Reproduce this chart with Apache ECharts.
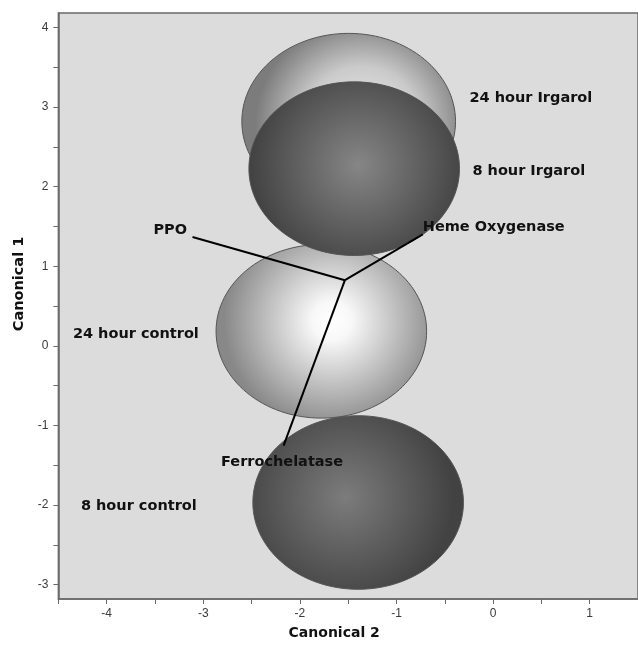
<!DOCTYPE html>
<html>
<head>
<meta charset="utf-8">
<script src="https://cdn.jsdelivr.net/npm/echarts@6/dist/echarts.min.js"></script>
<style>
html,body{margin:0;padding:0;background:#fff;}
#chart{width:638px;height:645px;}
</style>
</head>
<body>
<div id="chart"></div>
<script>
// ---- data ----
const groupNames = ['24 hour control', '8 hour control', '24 hour Irgarol', '8 hour Irgarol'];
const groupCanon2 = [-1.778, -1.397, -1.495, -1.438];   // x (Canonical 2) of circle centres
const groupCanon1 = [0.182, -1.968, 2.818, 2.225];      // y (Canonical 1) of circle centres
const groupRadius = [1.09, 1.09, 1.106, 1.09];          // confidence circle radius

const rayNames = ['PPO', 'Heme Oxygenase', 'Ferrochelatase'];
const rayOrigin = [-1.534, 0.824];
const rayEndCanon2 = [-3.112, -0.728, -2.169];
const rayEndCanon1 = [1.367, 1.400, -1.254];

const labelTexts = ['24 hour Irgarol', '8 hour Irgarol', 'Heme Oxygenase', 'PPO', '24 hour control', 'Ferrochelatase', '8 hour control'];
const labelCanon2 = [-0.245, -0.214, -0.728, -3.516, -4.350, -2.817, -4.267];
const labelCanon1 = [3.109, 2.194, 1.492, 1.454, 0.150, -1.467, -2.019];

const xTickLabels = [-4, -3, -2, -1, 0, 1];
const yTickLabels = [-3, -2, -1, 0, 1, 2, 3, 4];
const xTicks = [-4.5, -4, -3.5, -3, -2.5, -2, -1.5, -1, -0.5, 0, 0.5, 1, 1.5];
const yTicks = [-3, -2.5, -2, -1.5, -1, -0.5, 0, 0.5, 1, 1.5, 2, 2.5, 3, 3.5, 4];

// ---- styles ----
const G = echarts.graphic;
const fills = [
  new G.RadialGradient(0.55, 0.44, 0.62, [{offset:0,color:'#ffffff'},{offset:0.18,color:'#f8f8f8'},{offset:1,color:'#888888'}]),
  new G.RadialGradient(0.44, 0.47, 0.62, [{offset:0,color:'#7c7c7c'},{offset:1,color:'#424242'}]),
  new G.RadialGradient(0.56, 0.52, 0.6, [{offset:0,color:'#f0f0f0'},{offset:0.55,color:'#cacaca'},{offset:1,color:'#7c7c7c'}]),
  new G.RadialGradient(0.52, 0.48, 0.62, [{offset:0,color:'#868686'},{offset:1,color:'#424242'}])
];
const labelFont = 'bold 14.5px "DejaVu Sans"';

const circleData = groupNames.map((n, i) => [groupCanon2[i], groupCanon1[i], groupRadius[i]]);
const rayData = rayNames.map((n, i) => [rayOrigin[0], rayOrigin[1], rayEndCanon2[i], rayEndCanon1[i]]);
const labelData = labelTexts.map((t, i) => [labelCanon2[i], labelCanon1[i]]);

const chart = echarts.init(document.getElementById('chart'), null, {renderer: 'canvas'});
chart.setOption({
  animation: false,
  backgroundColor: '#ffffff',
  grid: {
    left: 58.4, right: -3.6, top: 13, bottom: 46,
    show: true, backgroundColor: '#dcdcdc', borderColor: '#6a6a6a', borderWidth: 1.5
  },
  xAxis: {
    type: 'value', min: -4.5, max: 1.5,
    name: 'Canonical 2', nameLocation: 'middle', nameGap: 27,
    nameTextStyle: {fontFamily: 'DejaVu Sans', fontWeight: 'bold', fontSize: 14, color: '#111', padding: [0, 28, 0, 0]},
    axisLine: {show: true, onZero: false, lineStyle: {color: '#6a6a6a', width: 1.5}},
    axisTick: {show: true, length: 5, customValues: xTicks, lineStyle: {color: '#6a6a6a'}},
    axisLabel: {customValues: xTickLabels, margin: 9, color: '#3a3a3a', fontFamily: 'Liberation Sans', fontSize: 12},
    splitLine: {show: false}
  },
  yAxis: {
    type: 'value', min: -3.18, max: 4.18,
    name: 'Canonical 1', nameLocation: 'middle', nameGap: 31, nameRotate: 90,
    nameTextStyle: {fontFamily: 'DejaVu Sans', fontWeight: 'bold', fontSize: 14.5, color: '#111', padding: [0, 0, 0, 44]},
    axisLine: {show: true, onZero: false, lineStyle: {color: '#6a6a6a', width: 1.5}},
    axisTick: {show: true, length: 5, customValues: yTicks, lineStyle: {color: '#6a6a6a'}},
    axisLabel: {customValues: yTickLabels, margin: 10, color: '#3a3a3a', fontFamily: 'Liberation Sans', fontSize: 12},
    splitLine: {show: false}
  },
  series: [
    {
      type: 'custom', name: 'groups', data: circleData, clip: true, z: 2,
      renderItem: function (params, api) {
        const c = api.coord([api.value(0), api.value(1)]);
        const s = api.size([api.value(2), api.value(2)]);
        return {
          type: 'ellipse',
          shape: {cx: c[0], cy: c[1], rx: s[0], ry: s[1]},
          style: {fill: fills[params.dataIndex], stroke: '#555555', lineWidth: 1}
        };
      }
    },
    {
      type: 'custom', name: 'rays', data: rayData, z: 3,
      renderItem: function (params, api) {
        const a = api.coord([api.value(0), api.value(1)]);
        const b = api.coord([api.value(2), api.value(3)]);
        return {
          type: 'line',
          shape: {x1: a[0], y1: a[1], x2: b[0], y2: b[1]},
          style: {stroke: '#000000', lineWidth: 2}
        };
      }
    },
    {
      type: 'custom', name: 'labels', data: labelData, z: 4,
      renderItem: function (params, api) {
        const p = api.coord([api.value(0), api.value(1)]);
        return {
          type: 'text', x: p[0], y: p[1],
          style: {text: labelTexts[params.dataIndex], font: labelFont, fill: '#111', align: 'left', verticalAlign: 'middle'}
        };
      }
    }
  ]
});
</script>
</body>
</html>
